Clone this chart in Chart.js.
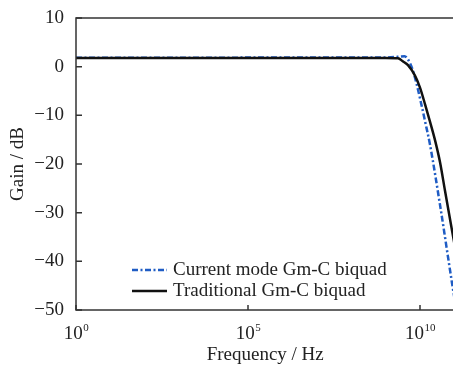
<!DOCTYPE html>
<html>
<head>
<meta charset="utf-8">
<script src="https://cdn.jsdelivr.net/npm/chart.js@4.4.1/dist/chart.umd.min.js"></script>
<style>
  html, body { margin: 0; padding: 0; background: #fff; overflow: hidden; }
  canvas { display: block; }
</style>
</head>
<body>
<canvas id="bode" width="460" height="368"></canvas>
<script>
// data (frequency in Hz, gain in dB)
const currentFreq = [1, 1e9, 2.5e9, 3.55e9, 4.47e9, 5.89e9, 7.94e9, 1e10, 1.41e10, 1.95e10, 3.8e10, 8.5e10, 1e11];
const currentGain = [1.85, 1.9, 2.05, 2.15, 1.5, -0.3, -3.5, -6.5, -11.3, -16.0, -28.3, -44.4, -47.5];
const tradFreq = [1, 1e9, 2.29e9, 3.16e9, 4.47e9, 7.08e9, 1e10, 1.41e10, 1.95e10, 2.73e10, 3.81e10, 5.33e10, 1e11];
const tradGain = [1.8, 1.8, 1.75, 1.1, 0.3, -1.8, -4.3, -7.8, -11.3, -15.1, -19.6, -25.5, -36.4];
const seriesNames = ['Current mode Gm-C biquad', 'Traditional Gm-C biquad'];
const xTicks = [1, 1e5, 1e10];
const xTickExp = ['0', '5', '10'];
const yTicks = [10, 0, -10, -20, -30, -40, -50];

const serif = 'Liberation Serif';

function pts(xs, ys) {
    return xs.map((x, i) => ({ x: x, y: ys[i] }));
}

// box, inward tick marks, x tick labels with exponents and the legend
const framePlugin = {
    id: 'frame',
    afterDraw(chart) {
        const ctx = chart.ctx;
        const a = chart.chartArea;
        const xs = chart.scales.x;
        const ys = chart.scales.y;
        ctx.save();
        ctx.strokeStyle = '#333';
        ctx.lineWidth = 1.5;
        ctx.strokeRect(a.left, a.top, a.right - a.left, a.bottom - a.top);
        ctx.beginPath();
        xTicks.forEach(v => {
            const px = xs.getPixelForValue(v);
            ctx.moveTo(px, a.bottom);
            ctx.lineTo(px, a.bottom - 5);
        });
        yTicks.forEach(v => {
            const py = ys.getPixelForValue(v);
            ctx.moveTo(a.left, py);
            ctx.lineTo(a.left + 6, py);
        });
        ctx.stroke();

        // x tick labels: 10 with a raised exponent
        ctx.fillStyle = '#222';
        ctx.textBaseline = 'alphabetic';
        ctx.textAlign = 'left';
        xTicks.forEach((v, i) => {
            const px = xs.getPixelForValue(v);
            ctx.font = '19px "' + serif + '"';
            const w1 = ctx.measureText('10').width;
            ctx.font = '11px "' + serif + '"';
            const w2 = ctx.measureText(xTickExp[i]).width;
            const x0 = px - (w1 + w2) / 2;
            ctx.font = '19px "' + serif + '"';
            ctx.fillText('10', x0, a.bottom + 29);
            ctx.font = '11px "' + serif + '"';
            ctx.fillText(xTickExp[i], x0 + w1 + 0.5, a.bottom + 21);
        });

        // legend
        ctx.font = '19px "' + serif + '"';
        ctx.textBaseline = 'middle';
        chart.data.datasets.forEach((ds, i) => {
            const y = 270 + i * 21;
            ctx.strokeStyle = ds.borderColor;
            ctx.lineWidth = ds.borderWidth;
            ctx.setLineDash(ds.borderDash || []);
            ctx.beginPath();
            ctx.moveTo(132, y);
            ctx.lineTo(167, y);
            ctx.stroke();
            ctx.setLineDash([]);
            ctx.fillText(ds.label, 173, y);
        });
        ctx.restore();
    }
};

const chart = new Chart(document.getElementById('bode'), {
    type: 'line',
    data: {
        datasets: [{
            label: seriesNames[0],
            data: pts(currentFreq, currentGain),
            borderColor: '#1f5cc4',
            borderWidth: 2.5,
            borderDash: [6, 2.5, 2, 2.5],
            pointRadius: 0,
            cubicInterpolationMode: 'monotone',
            order: 1
        }, {
            label: seriesNames[1],
            data: pts(tradFreq, tradGain),
            borderColor: '#111',
            borderWidth: 2.5,
            pointRadius: 0,
            cubicInterpolationMode: 'monotone',
            order: 0
        }]
    },
    options: {
        responsive: false,
        animation: false,
        layout: { padding: { top: 18, right: 5.6, left: 0, bottom: 0 } },
        plugins: {
            legend: { display: false },
            tooltip: { enabled: false }
        },
        scales: {
            x: {
                type: 'logarithmic',
                min: 1,
                max: 1e11,
                afterBuildTicks: s => { s.ticks = xTicks.map(v => ({ value: v })); },
                afterFit: s => { s.height = 58; s.paddingLeft = 0; s.paddingRight = 0; },
                grid: { display: false, drawTicks: false },
                border: { display: false },
                ticks: {
                    autoSkip: false,
                    maxRotation: 0,
                    padding: 10,
                    font: { family: serif, size: 19 },
                    callback: () => ''
                },
                title: {
                    display: true,
                    text: 'Frequency / Hz',
                    color: '#222',
                    font: { family: serif, size: 19 },
                    padding: { top: 0, bottom: 2 }
                }
            },
            y: {
                min: -50,
                max: 10,
                afterBuildTicks: s => { s.ticks = yTicks.map(v => ({ value: v })); },
                afterFit: s => { s.width = 76; s.paddingTop = 0; s.paddingBottom = 0; },
                grid: { display: false, drawTicks: false },
                border: { display: false },
                ticks: {
                    padding: 12,
                    color: '#222',
                    font: { family: serif, size: 19 },
                    callback: v => v < 0 ? '\u2212' + Math.abs(v) : String(v)
                },
                title: {
                    display: true,
                    text: 'Gain / dB',
                    color: '#222',
                    font: { family: serif, size: 19 },
                    padding: { top: 7, bottom: 0 }
                }
            }
        }
    },
    plugins: [framePlugin]
});
</script>
</body>
</html>
